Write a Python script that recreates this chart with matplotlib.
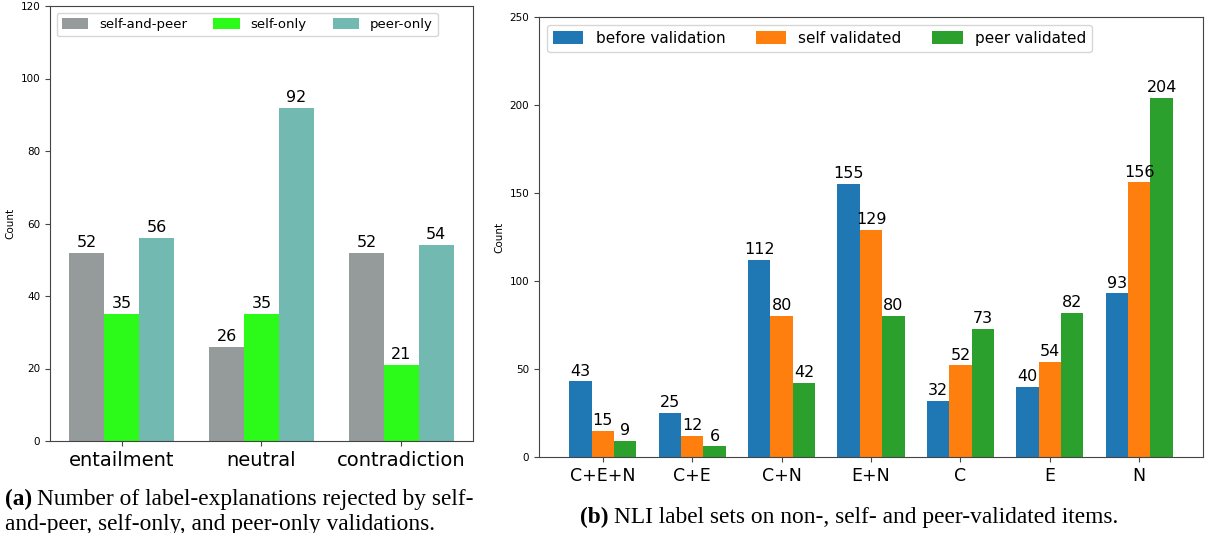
import matplotlib
matplotlib.use("Agg")
import matplotlib.pyplot as plt
import numpy as np

# panel (a)
rej_labels = ["entailment", "neutral", "contradiction"]
rej_series = ["self-and-peer", "self-only", "peer-only"]
rej_self_and_peer = [52, 26, 52]
rej_self_only = [35, 35, 21]
rej_peer_only = [56, 92, 54]
rej_colors = ["#959a9a", "#2cfb19", "#72b9b1"]

# panel (b)
set_labels = ["C+E+N", "C+E", "C+N", "E+N", "C", "E", "N"]
set_series = ["before validation", "self validated", "peer validated"]
set_before = [43, 25, 112, 155, 32, 40, 93]
set_self = [15, 12, 80, 129, 52, 54, 156]
set_peer = [9, 6, 42, 80, 73, 82, 204]
set_colors = ["#1f77b4", "#ff7f0e", "#2ca02c"]

cap_a_bold = "(a)"
cap_a_line1 = "Number of label-explanations rejected by self-"
cap_a_line2 = "and-peer, self-only, and peer-only validations."
cap_b_bold = "(b)"
cap_b_text = "NLI label sets on non-, self- and peer-validated items."

W, H = 1205, 533
fig = plt.figure(figsize=(W / 100, H / 100), dpi=100)

SPINE = "#444444"


def grouped(ax, labels, series, values, colors, width=0.25, legend_fs=10, xfs=14):
    x = np.arange(len(labels))
    for k, (name, vals, c) in enumerate(zip(series, values, colors)):
        bars = ax.bar(x + (k - 1) * width, vals, width, color=c, label=name)
        ax.bar_label(bars, padding=2, fontsize=11.5)
    ax.set_xticks(x)
    ax.set_xticklabels(labels, fontsize=xfs)
    ax.tick_params(axis="y", labelsize=7.5, color=SPINE)
    ax.tick_params(axis="x", color=SPINE)
    ax.set_ylabel("Count", fontsize=7.5)
    for s in ax.spines.values():
        s.set_color(SPINE)
    ax.legend(loc="upper left", ncol=3, fontsize=legend_fs, handleheight=0.9)


ax1 = fig.add_axes([50 / W, 1 - 441 / H, 423 / W, 435 / H])
grouped(ax1, rej_labels, rej_series, [rej_self_and_peer, rej_self_only, rej_peer_only],
        rej_colors, legend_fs=9.5, xfs=14)
ax1.set_ylim(0, 120)
ax1.set_yticks(range(0, 121, 20))

ax2 = fig.add_axes([539 / W, 1 - 457 / H, 664 / W, 440 / H])
grouped(ax2, set_labels, set_series, [set_before, set_self, set_peer],
        set_colors, legend_fs=11, xfs=12.5)
ax2.set_ylim(0, 250)
ax2.set_yticks(range(0, 251, 50))

# captions (serif, bold panel letter followed by plain text)
cap = dict(family="Liberation Serif", fontsize=16.8, color="black")
fig.canvas.draw()
r = fig.canvas.get_renderer()
sp = 5  # gap after bold letter, px

ta = fig.text(5 / W, 1 - 505 / H, cap_a_bold, fontweight="bold", **cap)
wa = ta.get_window_extent(r).width
fig.text((5 + wa + sp) / W, 1 - 505 / H, cap_a_line1, **cap)
fig.text(5 / W, 1 - 530 / H, cap_a_line2, **cap)

tb = fig.text(0, 0, cap_b_bold, fontweight="bold", **cap)
tt = fig.text(0, 0, cap_b_text, **cap)
wb = tb.get_window_extent(r).width
wt = tt.get_window_extent(r).width
x0 = 849 - (wb + sp + wt) / 2
tb.set_position((x0 / W, 1 - 523 / H))
tt.set_position(((x0 + wb + sp) / W, 1 - 523 / H))

fig.savefig("out.png", dpi=100)
